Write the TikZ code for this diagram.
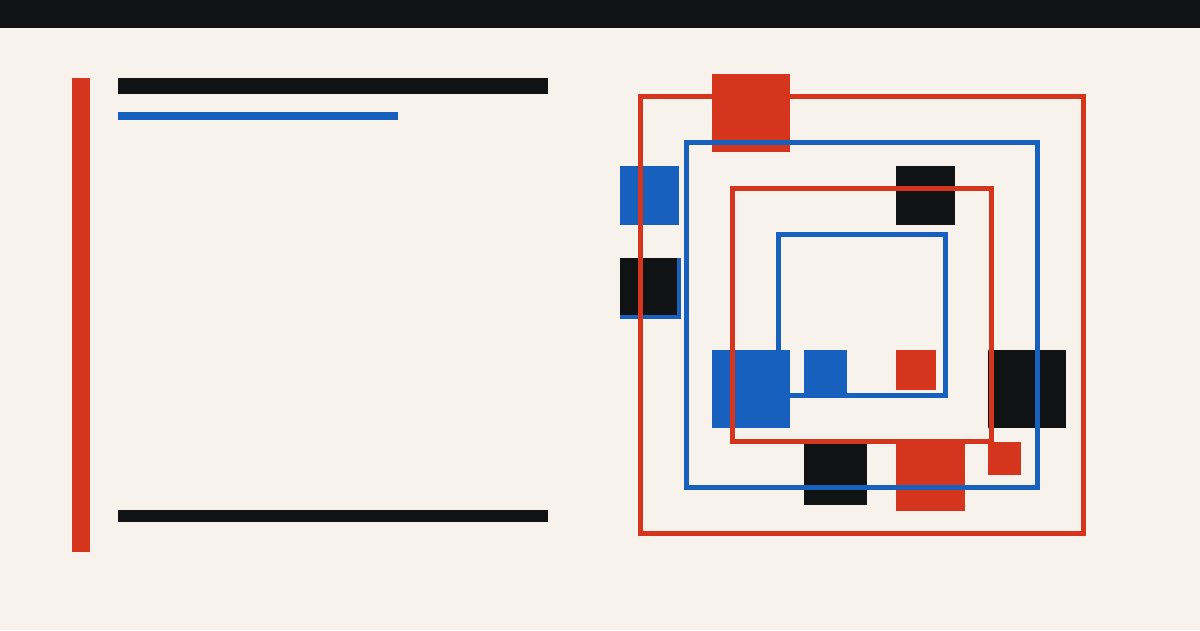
\documentclass[tikz,border=0pt]{standalone}
\usepackage{tikz}

\definecolor{paper}{HTML}{F7F3EC}
\definecolor{ink}{HTML}{111214}
\definecolor{signal}{HTML}{D4351C}
\definecolor{cobalt}{HTML}{1760BD}

\begin{document}
\begin{tikzpicture}[x=1pt,y=-1pt,
  frame/.style={draw,line width=5pt,fill=none},
  red block/.style={fill=signal},
  blue block/.style={fill=cobalt},
  black block/.style={fill=ink}]

  \fill[paper] (0,0) rectangle (1200,630);
  \useasboundingbox (0,0) rectangle (1200,630);
  \fill[black block] (0,0) rectangle (1200,28);

  % left column
  \fill[red block] (72,78) rectangle (90,552);
  \fill[black block] (118,78) rectangle (548,94);
  \fill[blue block] (118,112) rectangle (398,120);
  \fill[black block] (118,510) rectangle (548,522);

  % blocks
  \fill[red block] (712,74) rectangle (790,152);
  \fill[blue block] (620,166) rectangle (679,225);
  \fill[blue block] (620,258) rectangle (681,319);
  \fill[black block] (620,258) rectangle (677,315);
  \fill[black block] (896,166) rectangle (955,225);
  \fill[blue block] (712,350) rectangle (790,428);
  \fill[blue block] (804,350) rectangle (847,393);
  \fill[red block] (896,350) rectangle (936,390);
  \fill[black block] (988,350) rectangle (1066,428);
  \fill[black block] (804,442) rectangle (867,505);
  \fill[red block] (896,442) rectangle (965,511);
  \fill[red block] (988,442) rectangle (1021,475);

  % nested frames
  \draw[frame,signal] (640.5,96.5) rectangle (1083.5,533);
  \draw[frame,cobalt] (686.5,142.5) rectangle (1037.5,487.5);
  \draw[frame,signal] (732.5,188.5) rectangle (991.5,441.5);
  \draw[frame,cobalt] (778.5,234.5) rectangle (945.5,395.5);
\end{tikzpicture}
\end{document}
